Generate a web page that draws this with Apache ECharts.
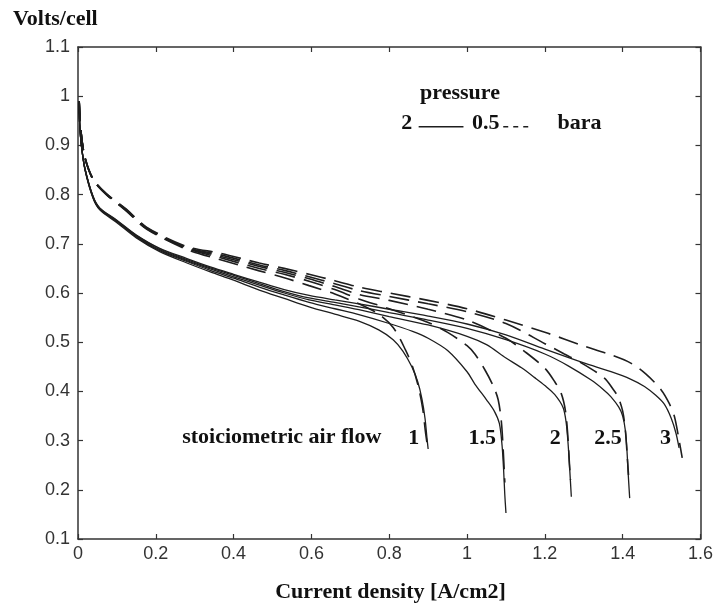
<!DOCTYPE html>
<html><head><meta charset="utf-8">
<script src="https://cdn.jsdelivr.net/npm/echarts@6/dist/echarts.min.js"></script>
<style>html,body{margin:0;padding:0;background:#fff}#c{width:716px;height:606px}</style>
</head><body><div id="c"></div>
<script>
// Stoichiometric air flow values (curve labels)
const stoich = ['1', '1.5', '2', '2.5', '3'];
const stoichLabelX = [0.863, 1.039, 1.227, 1.362, 1.510];
const stoichLabelY = 0.305;

// Pressure 2 bara (solid) curves: [current density, volts]
const solid_1 = [[0.002,0.985],[0.005,0.935],[0.009,0.898],[0.018,0.850],[0.039,0.792],[0.056,0.769],[0.1,0.743],[0.15,0.712],[0.21,0.684],[0.28,0.661],[0.34,0.643],[0.4,0.626],[0.466,0.606],[0.53,0.589],[0.594,0.572],[0.66,0.557],[0.722,0.543],[0.773,0.525],[0.81,0.505],[0.835,0.482],[0.858,0.45],[0.873,0.42],[0.884,0.385],[0.892,0.345],[0.897,0.305],[0.9,0.283]];
const solid_15 = [[0.002,0.985],[0.005,0.935],[0.009,0.898],[0.018,0.851],[0.039,0.793],[0.056,0.77],[0.1,0.745],[0.15,0.714],[0.21,0.686],[0.28,0.664],[0.34,0.646],[0.4,0.63],[0.466,0.612],[0.53,0.596],[0.594,0.581],[0.66,0.568],[0.722,0.556],[0.8,0.538],[0.86,0.522],[0.9,0.508],[0.95,0.483],[1.0,0.44],[1.02,0.415],[1.05,0.383],[1.07,0.36],[1.083,0.335],[1.09,0.29],[1.094,0.24],[1.097,0.19],[1.1,0.153]];
const solid_2 = [[0.002,0.985],[0.005,0.935],[0.009,0.898],[0.018,0.852],[0.039,0.794],[0.056,0.771],[0.1,0.746],[0.15,0.716],[0.21,0.688],[0.28,0.666],[0.34,0.649],[0.4,0.633],[0.466,0.616],[0.53,0.6],[0.594,0.586],[0.66,0.576],[0.722,0.566],[0.8,0.552],[0.9,0.535],[1.0,0.512],[1.05,0.495],[1.1,0.468],[1.14,0.448],[1.174,0.428],[1.2,0.412],[1.225,0.394],[1.247,0.367],[1.255,0.335],[1.26,0.29],[1.264,0.24],[1.268,0.186]];
const solid_25 = [[0.002,0.985],[0.005,0.935],[0.009,0.898],[0.018,0.852],[0.039,0.795],[0.056,0.772],[0.1,0.747],[0.15,0.717],[0.21,0.69],[0.28,0.668],[0.34,0.651],[0.4,0.636],[0.466,0.619],[0.53,0.603],[0.594,0.59],[0.66,0.581],[0.722,0.572],[0.8,0.56],[0.9,0.545],[1.0,0.528],[1.1,0.505],[1.2,0.476],[1.26,0.452],[1.319,0.423],[1.35,0.404],[1.37,0.389],[1.39,0.368],[1.4,0.35],[1.407,0.32],[1.411,0.28],[1.414,0.235],[1.418,0.183]];
const solid_3 = [[0.002,0.985],[0.005,0.935],[0.009,0.898],[0.018,0.853],[0.039,0.796],[0.056,0.773],[0.1,0.748],[0.15,0.718],[0.21,0.691],[0.28,0.67],[0.34,0.653],[0.4,0.638],[0.466,0.622],[0.53,0.607],[0.594,0.595],[0.66,0.586],[0.722,0.578],[0.8,0.567],[0.9,0.553],[1.0,0.537],[1.1,0.515],[1.2,0.486],[1.3,0.458],[1.37,0.44],[1.42,0.425],[1.456,0.41],[1.485,0.392],[1.507,0.374],[1.525,0.345],[1.537,0.315],[1.545,0.285]];

// Pressure 0.5 bara (dashed) curves
const dash_1 = [[0.003,0.99],[0.008,0.925],[0.018,0.874],[0.039,0.83],[0.073,0.8],[0.125,0.766],[0.176,0.73],[0.278,0.689],[0.364,0.668],[0.466,0.645],[0.53,0.631],[0.594,0.615],[0.66,0.598],[0.722,0.578],[0.773,0.557],[0.81,0.53],[0.842,0.484],[0.86,0.45],[0.875,0.409],[0.886,0.365],[0.893,0.318],[0.897,0.295]];
const dash_15 = [[0.003,0.99],[0.008,0.925],[0.018,0.874],[0.039,0.83],[0.073,0.8],[0.125,0.767],[0.176,0.731],[0.278,0.691],[0.364,0.672],[0.466,0.65],[0.53,0.638],[0.594,0.624],[0.66,0.607],[0.722,0.588],[0.8,0.568],[0.9,0.54],[0.95,0.52],[1.0,0.493],[1.02,0.476],[1.045,0.445],[1.068,0.41],[1.08,0.383],[1.088,0.34],[1.093,0.28],[1.097,0.215]];
const dash_2 = [[0.003,0.99],[0.008,0.926],[0.018,0.875],[0.039,0.831],[0.073,0.801],[0.125,0.768],[0.176,0.732],[0.278,0.692],[0.364,0.675],[0.466,0.654],[0.53,0.642],[0.594,0.629],[0.66,0.613],[0.722,0.597],[0.8,0.585],[0.9,0.567],[1.0,0.545],[1.1,0.508],[1.15,0.48],[1.2,0.447],[1.225,0.42],[1.242,0.396],[1.253,0.36],[1.259,0.31],[1.263,0.255],[1.266,0.22]];
const dash_25 = [[0.003,0.99],[0.008,0.926],[0.018,0.875],[0.039,0.831],[0.073,0.801],[0.125,0.769],[0.176,0.733],[0.278,0.693],[0.364,0.678],[0.466,0.657],[0.53,0.646],[0.594,0.633],[0.66,0.619],[0.722,0.605],[0.8,0.593],[0.9,0.578],[1.0,0.562],[1.1,0.538],[1.2,0.497],[1.25,0.476],[1.3,0.455],[1.353,0.427],[1.375,0.405],[1.388,0.389],[1.4,0.36],[1.407,0.32],[1.412,0.265],[1.415,0.23]];
const dash_3 = [[0.003,0.99],[0.008,0.927],[0.018,0.876],[0.039,0.832],[0.073,0.802],[0.125,0.77],[0.176,0.734],[0.278,0.695],[0.364,0.681],[0.466,0.661],[0.53,0.65],[0.594,0.638],[0.66,0.625],[0.722,0.612],[0.8,0.6],[0.9,0.585],[1.0,0.568],[1.1,0.545],[1.208,0.518],[1.294,0.494],[1.371,0.474],[1.422,0.457],[1.46,0.435],[1.499,0.403],[1.52,0.375],[1.533,0.349],[1.545,0.301],[1.553,0.265]];

// In-plot legend (pressure) texts and samples
const annotTexts = ['pressure', '2', '0.5', 'bara', 'stoiciometric air flow'];
const annotX = [0.982, 0.845, 1.048, 1.289, 0.5236];
const annotY = [1.0065, 0.9445, 0.9445, 0.9455, 0.307];
const legendSolid = [[0.8756, 0.938], [0.9908, 0.938]];
const legendDash = [[1.093, 0.938], [1.170, 0.938]];

const solids = [solid_1, solid_15, solid_2, solid_25, solid_3];
const dashes = [dash_1, dash_15, dash_2, dash_25, dash_3];

const LINE = '#1e1e1e';
const SERIF = '"Liberation Serif", "Times New Roman", serif';
const SANS = '"Liberation Sans", Arial, sans-serif';

const series = [];
solids.forEach((d, i) => series.push({
  type: 'line', name: 'solid ' + stoich[i], data: d, showSymbol: false, symbol: 'none',
  smooth: 0.3,
  lineStyle: {color: LINE, width: 1.3}, silent: true, z: 3
}));
dashes.forEach((d, i) => series.push({
  type: 'line', name: 'dash ' + stoich[i], data: d, showSymbol: false, symbol: 'none',
  smooth: 0.3,
  lineStyle: {color: LINE, width: 1.6, type: [20, 9]}, silent: true, z: 3
}));
series.push({type: 'line', data: legendSolid, symbol: 'none', lineStyle: {color: LINE, width: 1.5}, silent: true});
series.push({type: 'line', data: legendDash, symbol: 'none', lineStyle: {color: LINE, width: 1.5, type: [5, 5]}, silent: true});

const axisCommonX = {type: 'value', min: 0, max: 1.6, interval: 0.2, splitLine: {show: false},
  axisLine: {show: true, onZero: false, lineStyle: {color: '#333', width: 1.5}},
  axisTick: {show: true, inside: true, length: 5, lineStyle: {color: '#333', width: 1.2}}};
const axisCommonY = {type: 'value', min: 0.1, max: 1.1, interval: 0.1, splitLine: {show: false},
  axisLine: {show: true, onZero: false, lineStyle: {color: '#333', width: 1.5}},
  axisTick: {show: true, inside: true, length: 5, lineStyle: {color: '#333', width: 1.2}}};

const chart = echarts.init(document.getElementById('c'), null, {renderer: 'canvas'});
chart.setOption({
  animation: false,
  backgroundColor: '#fff',
  grid: {left: 78, right: 13, top: 47, bottom: 67, containLabel: false},
  xAxis: [
    Object.assign({}, axisCommonX, {position: 'bottom',
      axisLabel: {fontSize: 18, color: '#333', margin: 6, fontFamily: SANS}}),
    Object.assign({}, axisCommonX, {position: 'top', axisLabel: {show: false}})
  ],
  yAxis: [
    Object.assign({}, axisCommonY, {position: 'left',
      axisLabel: {fontSize: 18, color: '#333', margin: 8, fontFamily: SANS}}),
    Object.assign({}, axisCommonY, {position: 'right', axisLabel: {show: false}})
  ],
  series: series
});

// Text annotations placed through the chart's own coordinate conversion
const textEls = [
  {type: 'text', left: 13, top: 8, style: {text: 'Volts/cell', font: 'bold 22px ' + SERIF, fill: '#111'}},
  {type: 'text', x: 390.5, y: 592, style: {text: 'Current density [A/cm2]', font: 'bold 22px ' + SERIF, fill: '#111', textAlign: 'center', textVerticalAlign: 'middle'}}
];
function addText(t, xv, yv) {
  const p = chart.convertToPixel({xAxisIndex: 0, yAxisIndex: 0}, [xv, yv]);
  textEls.push({type: 'text', x: p[0], y: p[1], z: 10,
    style: {text: t, font: 'bold 22px ' + SERIF, fill: '#111', textAlign: 'center', textVerticalAlign: 'middle'}});
}
stoich.forEach((t, i) => addText(t, stoichLabelX[i], stoichLabelY));
annotTexts.forEach((t, i) => addText(t, annotX[i], annotY[i]));
chart.setOption({graphic: textEls});
</script>
</body></html>
